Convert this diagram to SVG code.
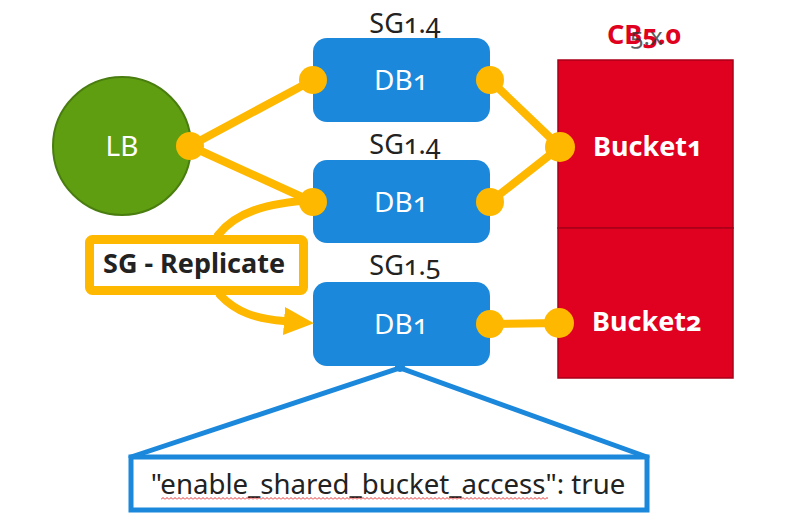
<svg xmlns="http://www.w3.org/2000/svg" width="800" height="528" viewBox="0 0 800 528">
<defs>
<style>
text{font-family:"Noto Sans","Open Sans","DejaVu Sans",sans-serif;font-variant-numeric:oldstyle-nums;}
.db{fill:#1b88db;}
.dbt{fill:#ffffff;font-size:28px;text-anchor:middle;}
.sg{fill:#222222;font-size:27px;text-anchor:middle;}
.bk{fill:#ffffff;font-size:27px;font-weight:bold;}
.ln{stroke:#ffb800;stroke-width:8;fill:none;stroke-linecap:round;}
.dot{fill:#ffb800;}
.cl{stroke:#1b88db;stroke-width:5;fill:none;stroke-linecap:round;}
</style>
<marker id="arr" markerUnits="userSpaceOnUse" markerWidth="32" markerHeight="30" refX="0" refY="14" orient="auto" viewBox="0 0 32 30">
<path d="M0,0 L30,14 L0,28 z" fill="#ffb800"/>
</marker>
<pattern id="wave" patternUnits="userSpaceOnUse" x="161" y="497" width="4" height="3">
<path d="M0,2.5 L2,0.5 L4,2.5" fill="none" stroke="#e03030" stroke-width="1"/>
</pattern>
</defs>
<rect width="800" height="528" fill="#ffffff"/>

<g id="lb">
<circle cx="122" cy="146" r="69" fill="#5f9e10" stroke="#4a7d10" stroke-width="2"/>
<text x="122" y="156" fill="#ffffff" font-size="28" text-anchor="middle">LB</text>
</g>

<g id="db-a">
<text class="sg" x="405" y="33">SG1.4</text>
<rect class="db" x="313" y="38" width="177" height="84" rx="14"/>
<text class="dbt" x="401" y="90">DB1</text>
</g>

<g id="db-b">
<text class="sg" x="405" y="154">SG1.4</text>
<rect class="db" x="313" y="160" width="177" height="83" rx="14"/>
<text class="dbt" x="401" y="212">DB1</text>
</g>

<g id="db-c">
<text class="sg" x="405" y="275">SG1.5</text>
<rect class="db" x="313" y="282" width="177" height="84" rx="14"/>
<text class="dbt" x="401" y="334">DB1</text>
</g>

<g id="cb">
<text x="607" y="44" fill="#e00020" font-size="27" font-weight="bold">CB5.0<tspan dx="-51" dy="1" fill="#333333" font-size="24" font-weight="normal" fill-opacity="0.8">5.x</tspan></text>
<rect x="558" y="60" width="175" height="168" fill="#e00020" stroke="#a80018" stroke-width="1.5"/>
<rect x="558" y="228" width="175" height="150" fill="#e00020" stroke="#a80018" stroke-width="1.5"/>
</g>

<g id="bucket1">
<text class="bk" x="593" y="156">Bucket1</text>
</g>
<g id="bucket2">
<text class="bk" x="592" y="331">Bucket2</text>
</g>

<g id="replicate">
<rect x="89.5" y="239.5" width="214" height="51" rx="3" fill="#ffffff" stroke="#ffb800" stroke-width="9"/>
<text x="103" y="273" fill="#222222" font-size="27" font-weight="bold">SG - Replicate</text>
</g>

<g id="config">
<rect x="131" y="457" width="516" height="53" fill="#ffffff" stroke="#1b88db" stroke-width="5"/>
<text x="388" y="494" fill="#222222" font-size="27.6" text-anchor="middle">"enable_shared_bucket_access": true</text>
<rect x="161" y="497" width="387" height="3" fill="url(#wave)"/>
</g>

<g id="connectors">
<line class="ln" x1="190" y1="146" x2="313" y2="80"/>
<line class="ln" x1="190" y1="146" x2="313" y2="202"/>
<line class="ln" x1="490" y1="80" x2="560" y2="147"/>
<line class="ln" x1="490" y1="202" x2="560" y2="147"/>
<line class="ln" x1="490" y1="324" x2="559" y2="323"/>
<path class="ln" stroke-linecap="butt" d="M218,235 C235,213 265,203 313,200"/>
<path class="ln" stroke-linecap="butt" d="M220,295 C236,312 256,319 284,321" marker-end="url(#arr)"/>
<path class="cl" d="M131,457 L400,368 L647,457"/>
<circle cx="400" cy="367" r="5" fill="#1b88db"/>
<circle class="dot" cx="190" cy="146" r="14"/>
<circle class="dot" cx="313" cy="80" r="14"/>
<circle class="dot" cx="313" cy="202" r="14"/>
<circle class="dot" cx="490" cy="80" r="14"/>
<circle class="dot" cx="490" cy="202" r="14"/>
<circle class="dot" cx="490" cy="324" r="14"/>
<circle class="dot" cx="560" cy="147" r="15"/>
<circle class="dot" cx="559" cy="323" r="15"/>
</g>
</svg>
